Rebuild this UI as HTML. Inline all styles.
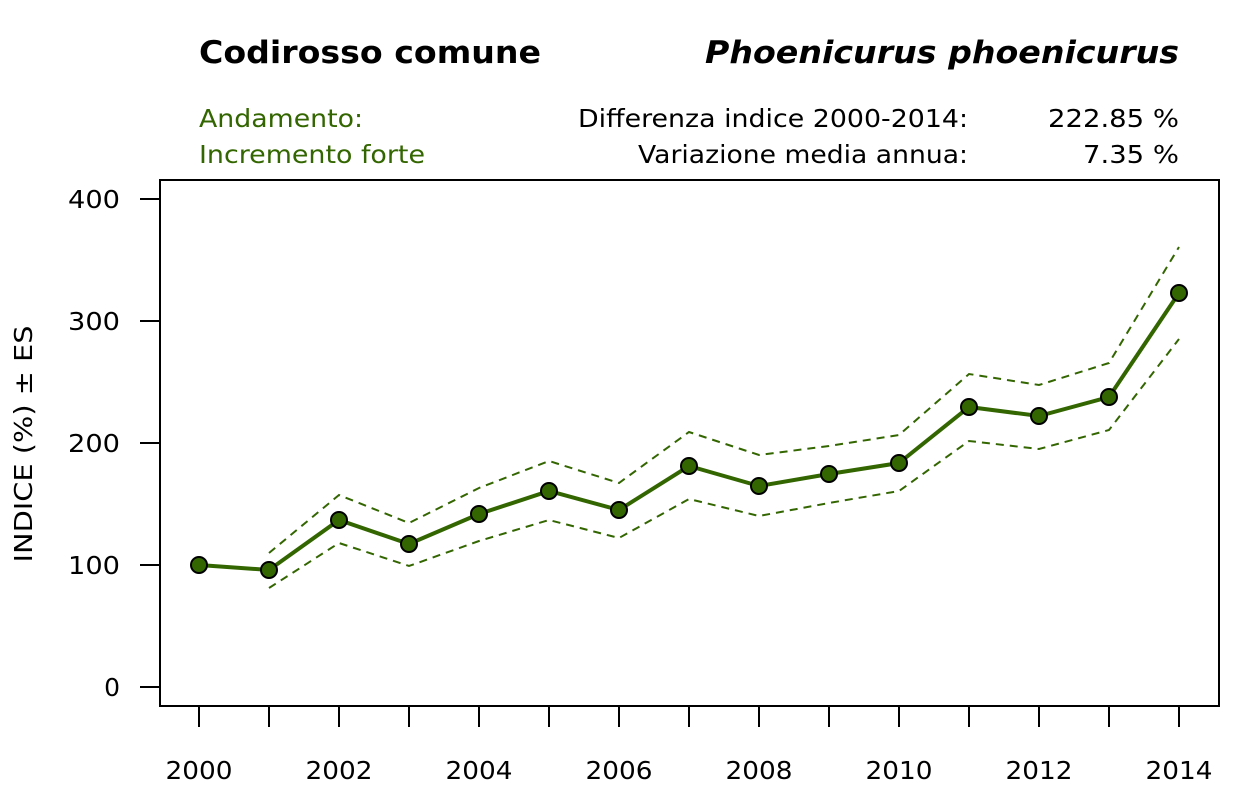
<!DOCTYPE html>
<html><head><meta charset="utf-8"><style>body{margin:0;background:#fff}svg{display:block}text{font-family:"DejaVu Sans","Liberation Sans",sans-serif}</style></head>
<body>
<svg width="1259" height="787" viewBox="0 0 1259 787" xmlns="http://www.w3.org/2000/svg">
<rect width="1259" height="787" fill="#fff"/>
<text x="199" y="63" font-size="31" font-weight="bold" textLength="342" lengthAdjust="spacingAndGlyphs">Codirosso comune</text>
<text x="1179" y="63" font-size="31" font-weight="bold" font-style="italic" text-anchor="end" textLength="474" lengthAdjust="spacingAndGlyphs">Phoenicurus phoenicurus</text>
<text x="199" y="127" font-size="25" fill="#336600" textLength="164" lengthAdjust="spacingAndGlyphs">Andamento:</text>
<text x="199" y="163" font-size="25" fill="#336600" textLength="226" lengthAdjust="spacingAndGlyphs">Incremento forte</text>
<text x="968" y="127" font-size="25" text-anchor="end" textLength="390" lengthAdjust="spacingAndGlyphs">Differenza indice 2000-2014:</text>
<text x="968" y="163" font-size="25" text-anchor="end" textLength="330" lengthAdjust="spacingAndGlyphs">Variazione media annua:</text>
<text x="1179" y="127" font-size="25" text-anchor="end" textLength="131" lengthAdjust="spacingAndGlyphs">222.85 %</text>
<text x="1179" y="163" font-size="25" text-anchor="end" textLength="96" lengthAdjust="spacingAndGlyphs">7.35 %</text>
<rect x="160" y="180" width="1059" height="526" fill="none" stroke="#000" stroke-width="2"/>
<g stroke="#000" stroke-width="2">
<line x1="140" y1="199" x2="160" y2="199"/><line x1="140" y1="321" x2="160" y2="321"/><line x1="140" y1="443" x2="160" y2="443"/><line x1="140" y1="565" x2="160" y2="565"/><line x1="140" y1="687" x2="160" y2="687"/>
</g>
<g font-size="25" text-anchor="end">
<text x="120" y="208" textLength="52" lengthAdjust="spacingAndGlyphs">400</text><text x="120" y="330" textLength="52" lengthAdjust="spacingAndGlyphs">300</text><text x="120" y="452" textLength="52" lengthAdjust="spacingAndGlyphs">200</text><text x="120" y="574" textLength="52" lengthAdjust="spacingAndGlyphs">100</text><text x="120" y="696">0</text>
</g>
<text transform="translate(32,444) rotate(-90)" font-size="25" text-anchor="middle" textLength="237" lengthAdjust="spacingAndGlyphs">INDICE (%) ± ES</text>
<g stroke="#000" stroke-width="2">
<line x1="199" y1="706" x2="199" y2="727"/><line x1="269" y1="706" x2="269" y2="727"/><line x1="339" y1="706" x2="339" y2="727"/><line x1="409" y1="706" x2="409" y2="727"/><line x1="479" y1="706" x2="479" y2="727"/><line x1="549" y1="706" x2="549" y2="727"/><line x1="619" y1="706" x2="619" y2="727"/><line x1="689" y1="706" x2="689" y2="727"/><line x1="759" y1="706" x2="759" y2="727"/><line x1="829" y1="706" x2="829" y2="727"/><line x1="899" y1="706" x2="899" y2="727"/><line x1="969" y1="706" x2="969" y2="727"/><line x1="1039" y1="706" x2="1039" y2="727"/><line x1="1109" y1="706" x2="1109" y2="727"/><line x1="1179" y1="706" x2="1179" y2="727"/>
</g>
<g font-size="25" text-anchor="middle">
<text x="199" y="779" textLength="67" lengthAdjust="spacingAndGlyphs">2000</text><text x="339" y="779" textLength="67" lengthAdjust="spacingAndGlyphs">2002</text><text x="479" y="779" textLength="67" lengthAdjust="spacingAndGlyphs">2004</text><text x="619" y="779" textLength="67" lengthAdjust="spacingAndGlyphs">2006</text><text x="759" y="779" textLength="67" lengthAdjust="spacingAndGlyphs">2008</text><text x="899" y="779" textLength="67" lengthAdjust="spacingAndGlyphs">2010</text><text x="1039" y="779" textLength="67" lengthAdjust="spacingAndGlyphs">2012</text><text x="1179" y="779" textLength="67" lengthAdjust="spacingAndGlyphs">2014</text>
</g>
<g fill="none" stroke="#336600" stroke-width="2" stroke-dasharray="8,6">
<polyline points="269,553 339,495 409,523 479,488 549,461 619,483 689,432 759,455 829,446 899,435 969,374 1039,385 1109,363 1179,247"/>
<polyline points="269,588 339,543 409,566 479,541 549,520 619,538 689,499 759,516 829,503 899,491 969,441 1039,449 1109,430 1179,339"/>
</g>
<polyline fill="none" stroke="#336600" stroke-width="4" points="199,565 269,570 339,520 409,544 479,514 549,491 619,510 689,466 759,486 829,474 899,463 969,407 1039,416 1109,397 1179,293"/>
<g fill="#336600" stroke="#000" stroke-width="2">
<circle cx="199" cy="565" r="8"/><circle cx="269" cy="570" r="8"/><circle cx="339" cy="520" r="8"/><circle cx="409" cy="544" r="8"/><circle cx="479" cy="514" r="8"/><circle cx="549" cy="491" r="8"/><circle cx="619" cy="510" r="8"/><circle cx="689" cy="466" r="8"/><circle cx="759" cy="486" r="8"/><circle cx="829" cy="474" r="8"/><circle cx="899" cy="463" r="8"/><circle cx="969" cy="407" r="8"/><circle cx="1039" cy="416" r="8"/><circle cx="1109" cy="397" r="8"/><circle cx="1179" cy="293" r="8"/>
</g>
</svg>
</body></html>
